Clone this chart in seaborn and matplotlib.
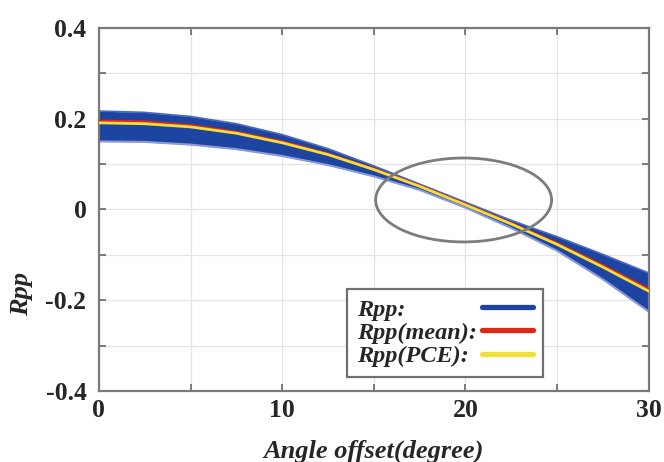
import matplotlib
matplotlib.use('Agg')
import matplotlib.pyplot as plt
import seaborn as sns
import pandas as pd
from matplotlib.patches import Ellipse
from matplotlib.offsetbox import TextArea, OffsetBox
from matplotlib.transforms import Bbox

# values
angle = [0, 2.5, 5, 7.5, 10, 12.5, 15, 17.5, 20, 22.5, 25, 27.5, 30]
rpp_upper = [0.217, 0.214, 0.205, 0.189, 0.165, 0.134, 0.096, 0.056, 0.016, -0.024, -0.060, -0.099, -0.140]
rpp_lower = [0.150, 0.149, 0.143, 0.133, 0.118, 0.098, 0.073, 0.043, 0.004, -0.041, -0.091, -0.154, -0.225]
rpp_mean = [0.195, 0.193, 0.185, 0.170, 0.149, 0.122, 0.089, 0.052, 0.011, -0.031, -0.075, -0.124, -0.176]
rpp_pce = [0.191, 0.189, 0.182, 0.168, 0.147, 0.121, 0.088, 0.051, 0.010, -0.032, -0.077, -0.127, -0.180]

df = pd.DataFrame({'angle': angle, 'mean': rpp_mean, 'pce': rpp_pce})

sns.set_style('ticks')
plt.rcParams['font.family'] = ['Liberation Serif', 'DejaVu Serif']
plt.rcParams['font.weight'] = 'bold'

blue = '#1c44a0'
fig = plt.figure(figsize=(6.64, 4.62), dpi=100)
ax = fig.add_axes([0.149, 0.1537, 0.828, 0.7857])

# Monte Carlo band
ax.fill_between(angle, rpp_lower, rpp_upper, color=blue, lw=0, zorder=2)
sns.lineplot(x=angle, y=rpp_upper, color='#4a66c0', lw=1.2, ax=ax, zorder=2)
sns.lineplot(x=angle, y=rpp_lower, color='#8a9ad8', lw=1.5, ax=ax, zorder=2)

sns.lineplot(data=df, x='angle', y='mean', color='#e02818', lw=2.2, ax=ax, zorder=3)
sns.lineplot(data=df, x='angle', y='pce', color='#f2e03a', lw=2, ax=ax, zorder=4)

# highlighted crossing region
ax.add_patch(Ellipse((19.9, 0.021), 9.6, 0.185, fill=False, ec='#7c7c7c', lw=2, zorder=5))

ax.set_xlim(0, 30)
ax.set_ylim(-0.4, 0.4)
ax.set_xticks([0, 5, 10, 15, 20, 25, 30])
ax.set_xticklabels(['0', '', '10', '', '20', '', '30'])
ax.set_yticks([-0.4, -0.3, -0.2, -0.1, 0, 0.1, 0.2, 0.3, 0.4])
ax.set_yticklabels(['-0.4', '', '-0.2', '', '0', '', '0.2', '', '0.4'])
ax.grid(True, color='#e4e4e4', lw=0.9)
ax.set_axisbelow(True)
ax.tick_params(direction='in', length=5, width=1.2, color='#666666',
               top=True, right=True, labelsize=18.5, pad=6)
ax.tick_params(axis='y', pad=9)
for s in ax.spines.values():
    s.set_color('#7a7a7a')
    s.set_linewidth(1.6)
    s.set_visible(True)

ax.set_xlabel('Angle offset(degree)', fontsize=19, fontweight='bold', fontstyle='italic')
ax.set_ylabel('Rpp', fontsize=19, fontweight='bold', fontstyle='italic')
ax.xaxis.set_label_coords(0.5, -0.135)
ax.yaxis.set_label_coords(-0.12, 0.267)

handles = [plt.Line2D([], [], color=blue, lw=3.8),
           plt.Line2D([], [], color='#e02818', lw=3.8),
           plt.Line2D([], [], color='#f2e03a', lw=3.8)]
leg = ax.legend(handles, ['Rpp:', 'Rpp(mean):', 'Rpp(PCE):'], loc='upper right',
                bbox_to_anchor=(0.807, 0.281), markerfirst=False, fancybox=False,
                framealpha=1, edgecolor='#707070', handlelength=2.1,
                handletextpad=0.2, labelspacing=0.05, borderpad=0.4,
                borderaxespad=0,
                prop={'family': 'Liberation Serif', 'weight': 'bold',
                      'style': 'italic', 'size': 17.5})
leg.get_frame().set_linewidth(1.6)


# left-align legend texts while keeping handles in one column
def text_areas(box):
    for c in box.get_children():
        if isinstance(c, TextArea):
            yield c
        elif isinstance(c, OffsetBox):
            yield from text_areas(c)


renderer = fig.canvas.get_renderer()
areas = list(text_areas(leg._legend_box))
wmax = max(a.get_bbox(renderer).width for a in areas)
for a in areas:
    orig = a.get_bbox

    def fixed(r, orig=orig):
        b = orig(r)
        return Bbox.from_bounds(b.x0, b.y0, wmax, b.height)
    a.get_bbox = fixed

fig.savefig('out.png', dpi=100, facecolor='white')
